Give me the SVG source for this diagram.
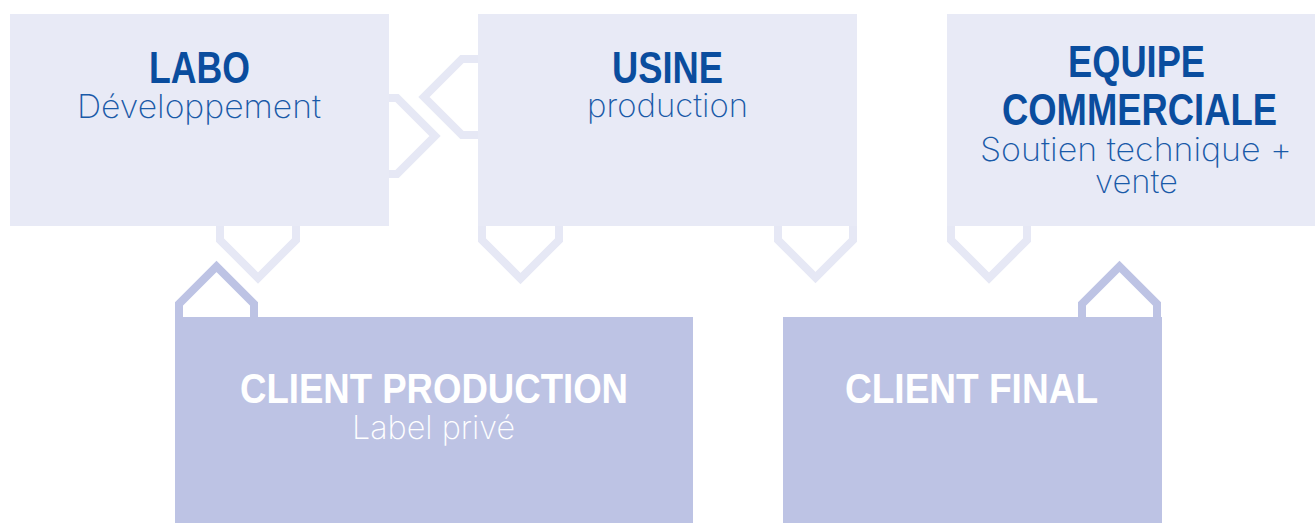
<svg xmlns="http://www.w3.org/2000/svg" width="1315" height="523" viewBox="0 0 1315 523">
<style>
.box-l{fill:#e8eaf6}
.box-d{fill:#bdc3e4}
.ch-l{fill:none;stroke:#e6e8f5;stroke-width:8;stroke-linejoin:miter}
.ch-d{fill:none;stroke:#bdc3e4;stroke-width:8;stroke-linejoin:miter}
.t{font-family:"Liberation Sans",Arial,sans-serif;font-weight:bold;text-anchor:middle}
.tb{fill:#0a4d9e;font-size:45px}
.tw{fill:#ffffff;font-size:42px}
.s{font-family:Inter,"Liberation Sans",Arial,sans-serif;font-weight:200;font-size:33px;text-anchor:middle}
.sb{fill:#1a5aa8}
.sw{fill:#ffffff}
</style>
<rect width="1315" height="523" fill="#ffffff"/>
<g id="connectors">
  <polyline class="ch-l" points="389,98 397,98 435,136 397,174 389,174"/>
  <polyline class="ch-l" points="478,59 462,59 424,97 462,135 478,135"/>
  <polyline class="ch-l" points="220,226 220,240 258,278 296,240 296,226"/>
  <polyline class="ch-l" points="482,226 482,240 520.5,278.5 559,240 559,226"/>
  <polyline class="ch-l" points="778,226 778,240 815.5,277.5 853,240 853,226"/>
  <polyline class="ch-l" points="951,226 951,240 989,278 1027,240 1027,226"/>
  <polyline class="ch-d" points="179,317 179,304 216.5,266.5 254,304 254,317"/>
  <polyline class="ch-d" points="1082,317 1082,304 1119.5,266.5 1157,304 1157,317"/>
</g>
<g id="labo">
  <rect class="box-l" x="10" y="14" width="379" height="212"/>
  <text class="t tb" x="199.5" y="83" textLength="101" lengthAdjust="spacingAndGlyphs">LABO</text>
  <text class="s sb" x="199" y="118" textLength="244" lengthAdjust="spacingAndGlyphs">Développement</text>
</g>
<g id="usine">
  <rect class="box-l" x="478" y="14" width="379" height="212"/>
  <text class="t tb" x="667.5" y="83" textLength="111" lengthAdjust="spacingAndGlyphs">USINE</text>
  <text class="s sb" x="667.5" y="117" textLength="161" lengthAdjust="spacingAndGlyphs">production</text>
</g>
<g id="equipe">
  <rect class="box-l" x="947" y="14" width="379" height="212"/>
  <text class="t tb" x="1136.5" y="77" textLength="137" lengthAdjust="spacingAndGlyphs">EQUIPE</text>
  <text class="t tb" x="1139.5" y="125" textLength="275" lengthAdjust="spacingAndGlyphs">COMMERCIALE</text>
  <text class="s sb" x="1136" y="161" textLength="312" lengthAdjust="spacingAndGlyphs">Soutien technique +</text>
  <text class="s sb" x="1136.5" y="193" textLength="83" lengthAdjust="spacingAndGlyphs">vente</text>
</g>
<g id="client-production">
  <rect class="box-d" x="175" y="317" width="518" height="206"/>
  <text class="t tw" x="434" y="403" textLength="388" lengthAdjust="spacingAndGlyphs">CLIENT PRODUCTION</text>
  <text class="s sw" x="433.5" y="439" textLength="163" lengthAdjust="spacingAndGlyphs">Label privé</text>
</g>
<g id="client-final">
  <rect class="box-d" x="783" y="317" width="379" height="206"/>
  <text class="t tw" x="971.5" y="403" textLength="253" lengthAdjust="spacingAndGlyphs">CLIENT FINAL</text>
</g>
</svg>
